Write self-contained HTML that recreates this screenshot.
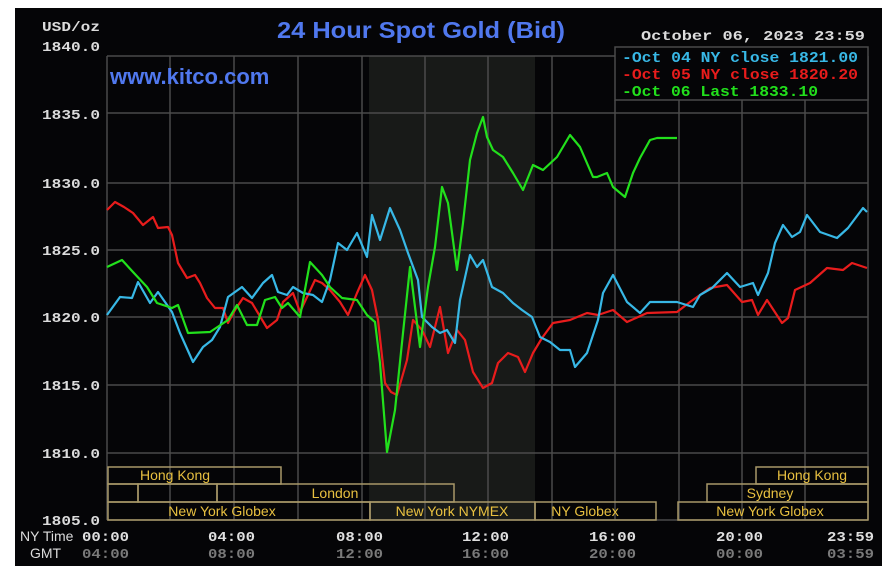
<!DOCTYPE html>
<html><head><meta charset="utf-8"><style>
html,body{margin:0;padding:0;background:#fff;}
svg{display:block;}
.m{font-family:"Liberation Mono","DejaVu Sans Mono",monospace;font-weight:bold;}
</style></head><body>
<svg width="892" height="576" viewBox="0 0 892 576" xmlns="http://www.w3.org/2000/svg">
<rect x="15" y="8" width="867" height="558" fill="#050507"/>
<rect x="369" y="56" width="166" height="464" fill="#181a18"/>
<g stroke="#4a4a4a" stroke-width="1.5" fill="none">
<line x1="107" y1="56" x2="868" y2="56"/>
<line x1="107" y1="113" x2="868" y2="113"/>
<line x1="107" y1="183" x2="868" y2="183"/>
<line x1="107" y1="250" x2="868" y2="250"/>
<line x1="107" y1="317" x2="868" y2="317"/>
<line x1="107" y1="385" x2="868" y2="385"/>
<line x1="107" y1="453" x2="868" y2="453"/>
<line x1="107" y1="520" x2="868" y2="520"/>
<line x1="107" y1="56" x2="107" y2="520"/>
<line x1="170" y1="56" x2="170" y2="520"/>
<line x1="234" y1="56" x2="234" y2="520"/>
<line x1="298" y1="56" x2="298" y2="520"/>
<line x1="362" y1="56" x2="362" y2="520"/>
<line x1="425" y1="56" x2="425" y2="520"/>
<line x1="488" y1="56" x2="488" y2="520"/>
<line x1="552" y1="56" x2="552" y2="520"/>
<line x1="615" y1="100" x2="615" y2="520"/>
<line x1="679" y1="100" x2="679" y2="520"/>
<line x1="742" y1="100" x2="742" y2="520"/>
<line x1="805" y1="100" x2="805" y2="520"/>
<line x1="868" y1="56" x2="868" y2="520"/>
</g>
<g fill="none" stroke-width="2.2" stroke-linejoin="round">
<polyline stroke="#e81c1c" points="107,210 115,202 124,207 133,213 143,225 153,217 158,228 168,227 172,235 178,263 187,278 195,275 200,283 207,298 215,308 223,308 228,323 235,310 243,298 252,303 258,313 267,328 277,320 283,302 293,293 300,312 308,295 315,280 322,283 330,290 340,302 348,315 357,293 365,275 372,290 378,320 385,383 391,392 397,395 407,360 413,320 422,330 430,347 440,307 448,353 457,330 465,340 473,372 483,388 492,383 498,363 508,353 518,357 525,372 533,353 542,338 553,323 570,320 587,313 598,315 613,310 627,322 647,313 677,312 690,302 710,288 727,285 742,302 752,300 758,315 767,300 782,323 788,318 795,290 810,283 827,268 843,270 852,263 867,268"/>
<polyline stroke="#38b8e6" points="107,315 120,297 132,298 138,282 150,303 158,292 172,312 180,333 193,362 203,347 212,340 220,327 228,297 242,287 252,298 263,283 272,275 278,292 287,295 293,287 303,293 313,295 322,302 330,280 338,243 347,250 357,233 367,257 372,215 380,240 390,208 400,230 408,253 418,280 422,317 432,327 440,333 447,330 455,343 460,300 470,255 477,267 483,260 492,287 503,293 513,303 522,310 532,317 540,337 550,342 560,350 570,350 575,367 587,353 598,320 603,293 613,275 627,302 640,313 650,302 677,302 693,307 700,295 712,288 727,273 740,287 753,283 758,295 768,273 775,243 783,225 792,237 800,232 807,215 820,232 837,238 848,228 863,208 867,212"/>
<polyline stroke="#22e01c" points="107,267 122,260 133,272 147,287 157,303 172,308 178,305 188,333 210,332 228,320 237,305 247,325 257,325 265,300 275,297 282,308 288,303 300,317 310,262 322,275 330,287 342,298 357,300 367,315 375,322 380,363 387,452 395,410 403,333 410,267 415,307 420,347 428,287 435,247 442,187 448,203 457,270 463,223 470,160 477,133 483,117 487,137 493,150 503,157 513,173 523,190 533,165 543,170 557,157 570,135 580,147 593,177 597,177 607,173 613,187 625,197 633,173 640,158 650,140 657,138 677,138"/>
</g>
<g stroke="#a89868" stroke-width="1.5" fill="none">
<rect x="108" y="467" width="173" height="17"/>
<rect x="756" y="467" width="112" height="17"/>
<rect x="108" y="484" width="30" height="18"/>
<rect x="138" y="484" width="79" height="18"/>
<rect x="217" y="484" width="237" height="18"/>
<rect x="707" y="484" width="161" height="18"/>
<rect x="108" y="502" width="262" height="18"/>
<rect x="370" y="502" width="165" height="18"/>
<rect x="535" y="502" width="121" height="18"/>
<rect x="678" y="502" width="190" height="18"/>
</g>
<g fill="#e8c040" font-family="'Liberation Sans Narrow','Liberation Sans',sans-serif" font-size="14" text-anchor="middle">
<text x="175" y="480">Hong Kong</text>
<text x="812" y="480">Hong Kong</text>
<text x="335" y="498">London</text>
<text x="770" y="498">Sydney</text>
<text x="222" y="516">New York Globex</text>
<text x="452" y="516">New York NYMEX</text>
<text x="585" y="516">NY Globex</text>
<text x="770" y="516">New York Globex</text>
</g>
<g class="m" fill="#dcdcdc" font-size="14">
<text x="42" y="31" textLength="58" lengthAdjust="spacingAndGlyphs">USD/oz</text>
<text x="42" y="51" textLength="58" lengthAdjust="spacingAndGlyphs">1840.0</text>
<text x="42" y="119" textLength="58" lengthAdjust="spacingAndGlyphs">1835.0</text>
<text x="42" y="188" textLength="58" lengthAdjust="spacingAndGlyphs">1830.0</text>
<text x="42" y="255" textLength="58" lengthAdjust="spacingAndGlyphs">1825.0</text>
<text x="42" y="322" textLength="58" lengthAdjust="spacingAndGlyphs">1820.0</text>
<text x="42" y="390" textLength="58" lengthAdjust="spacingAndGlyphs">1815.0</text>
<text x="42" y="458" textLength="58" lengthAdjust="spacingAndGlyphs">1810.0</text>
<text x="42" y="525" textLength="58" lengthAdjust="spacingAndGlyphs">1805.0</text>
</g>
<g font-size="14">
<text x="20" y="541" fill="#dcdcdc" font-family="'Liberation Sans Narrow',sans-serif">NY Time</text>
<text x="30" y="558" fill="#dcdcdc" font-family="'Liberation Sans Narrow',sans-serif">GMT</text>
<g class="m" fill="#e0e0e0">
<text x="82" y="541" textLength="47" lengthAdjust="spacingAndGlyphs">00:00</text><text x="208" y="541" textLength="47" lengthAdjust="spacingAndGlyphs">04:00</text><text x="336" y="541" textLength="47" lengthAdjust="spacingAndGlyphs">08:00</text><text x="462" y="541" textLength="47" lengthAdjust="spacingAndGlyphs">12:00</text><text x="589" y="541" textLength="47" lengthAdjust="spacingAndGlyphs">16:00</text><text x="716" y="541" textLength="47" lengthAdjust="spacingAndGlyphs">20:00</text><text x="827" y="541" textLength="47" lengthAdjust="spacingAndGlyphs">23:59</text>
</g>
<g class="m" fill="#7a7a7a">
<text x="82" y="558" textLength="47" lengthAdjust="spacingAndGlyphs">04:00</text><text x="208" y="558" textLength="47" lengthAdjust="spacingAndGlyphs">08:00</text><text x="336" y="558" textLength="47" lengthAdjust="spacingAndGlyphs">12:00</text><text x="462" y="558" textLength="47" lengthAdjust="spacingAndGlyphs">16:00</text><text x="589" y="558" textLength="47" lengthAdjust="spacingAndGlyphs">20:00</text><text x="716" y="558" textLength="47" lengthAdjust="spacingAndGlyphs">00:00</text><text x="827" y="558" textLength="47" lengthAdjust="spacingAndGlyphs">03:59</text>
</g>
</g>
<text x="277" y="38" fill="#5078ee" font-family="'Liberation Sans',sans-serif" font-weight="bold" font-size="23" textLength="288" lengthAdjust="spacingAndGlyphs">24 Hour Spot Gold (Bid)</text>
<text x="110" y="84" fill="#5078ee" font-family="'Liberation Sans',sans-serif" font-weight="bold" font-size="22">www.kitco.com</text>
<text x="641" y="40" class="m" fill="#dcdcdc" font-size="14" textLength="224" lengthAdjust="spacingAndGlyphs">October 06, 2023 23:59</text>
<rect x="615" y="47" width="253" height="53" fill="#050507" stroke="#4a4a4a" stroke-width="1.5"/>
<g class="m" font-size="15">
<text x="622" y="62" fill="#38b8e6" textLength="236" lengthAdjust="spacingAndGlyphs">-Oct 04 NY close 1821.00</text>
<text x="622" y="79" fill="#e81c1c" textLength="236" lengthAdjust="spacingAndGlyphs">-Oct 05 NY close 1820.20</text>
<text x="622" y="96" fill="#22e01c" textLength="196" lengthAdjust="spacingAndGlyphs">-Oct 06 Last 1833.10</text>
</g>
</svg>
</body></html>
